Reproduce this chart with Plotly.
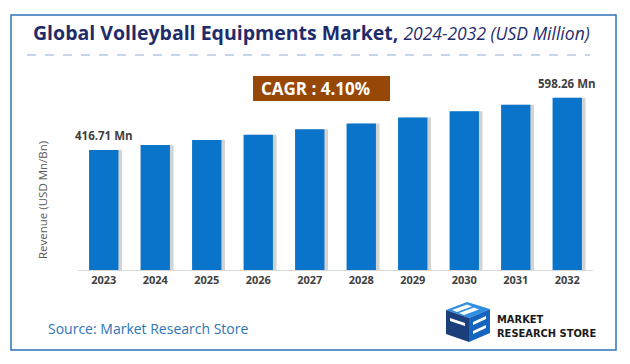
import plotly.graph_objects as go

years = ["2023", "2024", "2025", "2026", "2027", "2028", "2029", "2030", "2031", "2032"]
revenue = [416.71, 433.8, 451.2, 469.5, 488.6, 508.5, 529.3, 551.0, 573.5, 598.26]
label_years = ["2023", "2032"]
label_texts = ["416.71 Mn", "598.26 Mn"]
cagr_text = "CAGR : 4.10%"

# page body has an 8px margin; work in reference-pixel coordinates and shift
OFF = 8
W, H = 630 - OFF, 364 - OFF
plot_l, plot_r, plot_t, plot_b = 78, 593, 70, 270  # reference pixels
L, R, T, B = plot_l - OFF, W - (plot_r - OFF), plot_t - OFF, H - (plot_b - OFF)
PW, PH = W - L - R, H - T - B

def px(x):
    return (x - OFF - L) / PW

def py(y):
    return (H - B - (y - OFF)) / PH

FONT = "Open Sans"
BAR = "#0A74CA"
xs = list(range(len(years)))

fig = go.Figure()
fig.add_trace(go.Bar(x=xs, y=revenue, width=0.57, offset=-0.285 + 0.07,
                     marker=dict(color="rgba(110,110,110,0.3)", line=dict(width=0)),
                     hoverinfo="skip", showlegend=False))
fig.add_trace(go.Bar(x=xs, y=revenue, width=0.57, offset=-0.285,
                     marker=dict(color=BAR, line=dict(width=0)), showlegend=False))

annotations = []
for yr, txt in zip(label_years, label_texts):
    i = years.index(yr)
    annotations.append(dict(x=i, y=revenue[i], xref="x", yref="y", text="<b>" + txt + "</b>",
                            showarrow=False, yanchor="bottom", yshift=5,
                            font=dict(family=FONT, size=11.5, color="#404040")))

annotations.append(dict(x=px(311), y=py(33), xref="paper", yref="paper",
                        text="<b>Global Volleyball Equipments Market,</b> <i><span style='font-size:17.5px'>2024-2032 (USD Million)</span></i>",
                        showarrow=False, xanchor="center", yanchor="middle",
                        font=dict(family=FONT, size=19.5, color="#1F2C6B")))
annotations.append(dict(x=px(315), y=py(88.5), xref="paper", yref="paper",
                        text="<b>" + cagr_text + "</b>", showarrow=False,
                        xanchor="center", yanchor="middle",
                        font=dict(family=FONT, size=17, color="white")))
annotations.append(dict(x=px(42), y=py(200), xref="paper", yref="paper",
                        text="Revenue (USD Mn/Bn)", textangle=-90, showarrow=False,
                        xanchor="center", yanchor="middle",
                        font=dict(family=FONT, size=11.5, color="#595959")))
annotations.append(dict(x=px(46), y=py(328), xref="paper", yref="paper",
                        text="Source: Market Research Store", showarrow=False,
                        xanchor="left", yanchor="middle",
                        font=dict(family=FONT, size=14, color="#2E75B6")))
annotations.append(dict(x=px(495), y=py(326.5), xref="paper", yref="paper",
                        text="<b>MARKET<br>RESEARCH STORE</b>", showarrow=False,
                        xanchor="left", yanchor="middle", align="left",
                        font=dict(family="DejaVu Sans Condensed", size=11, color="#1a1a1a")))

def rect(x0, y0, x1, y1, **kw):
    return dict(type="rect", xref="paper", yref="paper",
                x0=px(x0), x1=px(x1), y0=py(y1), y1=py(y0), **kw)

def path(points, **kw):
    d = "M " + " L ".join(f"{px(a):.5f},{py(b):.5f}" for a, b in points) + " Z"
    return dict(type="path", xref="paper", yref="paper", path=d, **kw)

shapes = [
    rect(11, 15, 616, 350, line=dict(color="#2E75B6", width=1.5), fillcolor="rgba(0,0,0,0)", layer="below"),
    dict(type="line", xref="paper", yref="paper", x0=px(27), x1=px(590), y0=py(55), y1=py(55),
         line=dict(color="#8FAADC", width=1, dash="dash")),
    rect(253, 76, 390, 101, line=dict(width=0), fillcolor="#974806", layer="below"),
    path([(446, 310), (467, 302), (490, 309), (469, 318)], fillcolor="#2F8FE0", line=dict(width=0)),
    path([(446, 310), (469, 318), (469, 342), (446, 334)], fillcolor="#1B3F7A", line=dict(width=0)),
    path([(469, 318), (490, 309), (490, 333), (469, 342)], fillcolor="#1565C0", line=dict(width=0)),
    path([(452, 310), (467, 304.5), (472, 306.5), (457, 312)], fillcolor="white", line=dict(width=0)),
    path([(459, 313), (474, 307.5), (479, 309.5), (464, 315)], fillcolor="white", line=dict(width=0)),
    path([(450, 318), (465, 323), (465, 326), (450, 321)], fillcolor="white", line=dict(width=0)),
    path([(473, 322), (486, 316), (486, 319), (473, 325)], fillcolor="white", line=dict(width=0)),
    path([(473, 331), (486, 325), (486, 328), (473, 334)], fillcolor="white", line=dict(width=0)),
]

fig.update_layout(
    width=W, height=H, margin=dict(l=L, r=R, t=T, b=B, autoexpand=False),
    paper_bgcolor="white", plot_bgcolor="white",
    barmode="overlay", showlegend=False,
    xaxis=dict(range=[-0.5, len(years) - 0.5], tickmode="array", tickvals=xs,
               ticktext=["<b>" + y + "</b>" for y in years],
               showgrid=False, showline=True, linecolor="#D9D9D9", linewidth=1,
               zeroline=False, ticks="", tickfont=dict(family=FONT, size=11, color="#404040")),
    yaxis=dict(range=[0, 694.5], showgrid=False, showline=False, showticklabels=False,
               zeroline=False, ticks=""),
    annotations=annotations, shapes=shapes,
)
fig.write_html("out.html")
